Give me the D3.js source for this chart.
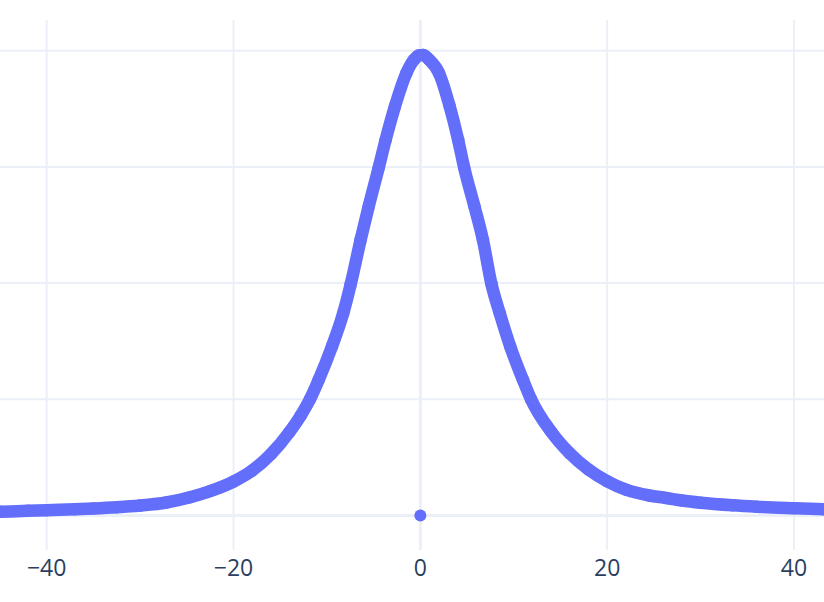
<!DOCTYPE html>
<html>
<head>
<meta charset="utf-8">
<script src="https://cdn.jsdelivr.net/npm/d3@7"></script>
<style>
  html, body { margin: 0; padding: 0; background: #ffffff; }
  svg { display: block; }
</style>
</head>
<body>
<svg id="chart" width="824" height="602"></svg>
<script>
// Curve samples (x, y)
const xValues = [-45, -42, -40, -37, -35, -32.5, -30, -27.2, -24.65, -22.5, -20, -18, -16.0, -14.0, -12.8,
  -11.82, -10.89, -9.47, -8.26, -7.45, -6.4, -5.54, -4.46, -3.72, -2.73, -1.5, -0.7, -0.2, 0.3,
  0.9, 2.0, 3.15, 4.05, 4.69, 5.8, 6.7, 7.61, 8.5, 9.63, 10.99, 11.85, 14.03, 16.0, 18, 20, 22,
  24.5, 26.3, 28, 30, 33.4, 36, 40, 43.2];
const yValues = [0.00032, 0.00040, 0.00045, 0.00053, 0.00060, 0.00071, 0.00086, 0.00112, 0.00157, 0.00210, 0.00292,
  0.00387, 0.00528, 0.00720, 0.00861, 0.0100, 0.01166, 0.01453, 0.01740, 0.01992, 0.02371, 0.02657,
  0.02993, 0.03231, 0.03518, 0.03806, 0.03920, 0.03958, 0.03963,
  0.03925, 0.03806, 0.03518, 0.03231, 0.02993, 0.02657, 0.02371, 0.01992, 0.01740, 0.01453, 0.01166, 0.0100,
  0.00718, 0.00535, 0.00396, 0.00295, 0.00222, 0.00172, 0.00151, 0.00129, 0.00110, 0.00088, 0.00076, 0.00063, 0.00054];
// Lone point
const extraX = [0];
const extraY = [0];
// Axis ticks
const xTicks = [-40, -20, 0, 20, 40];
const xTickLabels = ["\u221240", "\u221220", "0", "20", "40"];
const yTicks = [0, 0.01, 0.02, 0.03, 0.04];

const svg = d3.select("#chart");
const W = 824, H = 602;
const plotTop = 20, plotBottom = 550;

const x = d3.scaleLinear().domain([-45.0, 43.21]).range([0, W]);
const y = d3.scaleLinear().domain([-0.002969, 0.04264]).range([plotBottom, plotTop]);

const gridColor = "#EBF0F8";
const color = "#636efa";

// Horizontal grid lines
svg.append("g").selectAll("line").data(yTicks.filter(d => d !== 0)).join("line")
  .attr("x1", 0).attr("x2", W)
  .attr("y1", d => y(d)).attr("y2", d => y(d))
  .attr("stroke", gridColor).attr("stroke-width", 2);

// Vertical grid lines
svg.append("g").selectAll("line").data(xTicks.filter(d => d !== 0)).join("line")
  .attr("x1", d => x(d)).attr("x2", d => x(d))
  .attr("y1", plotTop).attr("y2", plotBottom)
  .attr("stroke", gridColor).attr("stroke-width", 2);

// Zero lines
svg.append("line")
  .attr("x1", 0).attr("x2", W).attr("y1", y(0)).attr("y2", y(0))
  .attr("stroke", gridColor).attr("stroke-width", 3);
svg.append("line")
  .attr("x1", x(0)).attr("x2", x(0)).attr("y1", plotTop).attr("y2", plotBottom)
  .attr("stroke", gridColor).attr("stroke-width", 3);

// Data
const pts = xValues.map((d, i) => ({ x: d, y: yValues[i] }));
const line = d3.line().x(d => x(d.x)).y(d => y(d.y)).curve(d3.curveMonotoneX);
svg.append("path").datum(pts)
  .attr("d", line)
  .attr("fill", "none").attr("stroke", color)
  .attr("stroke-width", 12.5).attr("stroke-linejoin", "round").attr("stroke-linecap", "round");

svg.append("g").selectAll("circle").data(pts).join("circle")
  .attr("cx", d => x(d.x)).attr("cy", d => y(d.y)).attr("r", 6.25)
  .attr("fill", color);

svg.append("g").selectAll("circle").data(extraX.map((d, i) => ({ x: d, y: extraY[i] }))).join("circle")
  .attr("cx", d => x(d.x)).attr("cy", d => y(d.y)).attr("r", 6)
  .attr("fill", color);

// X tick labels
svg.append("g").selectAll("text").data(xTicks).join("text")
  .attr("x", d => x(d)).attr("y", 576)
  .attr("text-anchor", "middle")
  .attr("font-family", "'Open Sans', sans-serif")
  .attr("font-size", 23)
  .attr("fill", "#2a3f5f")
  .text((d, i) => xTickLabels[i]);
</script>
</body>
</html>
